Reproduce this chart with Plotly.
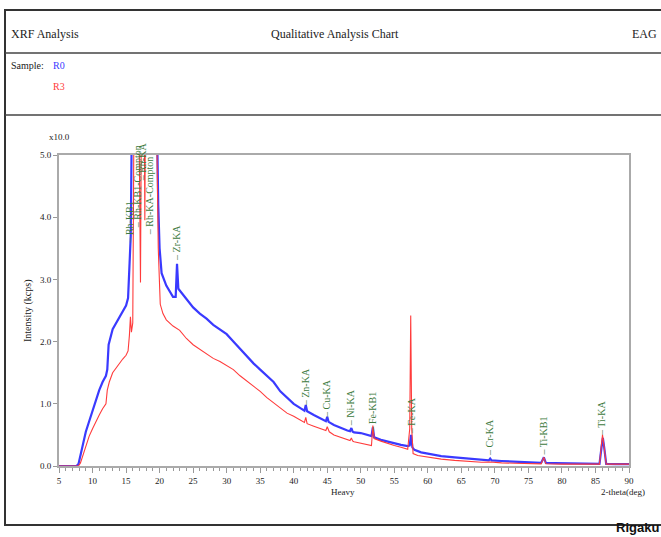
import plotly.graph_objects as go

# ---------------- data ----------------
two_theta_r0 = [5.0, 7.6, 7.9, 8.5, 9.0, 9.5, 10.0, 10.5, 11.0, 11.5, 12.0, 12.2, 12.4, 13.0, 13.5,
                14.0, 14.5, 15.0, 15.3, 15.5, 15.7, 15.9, 16.2, 19.4, 19.6, 19.8, 20.0, 20.3, 21.0,
                21.5, 22.0, 22.4, 22.6, 22.8, 23.5, 24.0, 25.0, 26.0, 27.0, 28.0, 29.0, 30.0, 31.0,
                32.0, 33.0, 34.0, 35.0, 36.0, 37.0, 38.0, 39.0, 40.0, 41.0, 41.6, 41.8, 42.0, 43.0,
                44.0, 44.8, 45.0, 45.2, 46.0, 47.0, 48.0, 48.4, 48.6, 48.8, 49.0, 50.0, 51.0, 51.6,
                51.8, 52.0, 53.0, 54.0, 55.0, 56.0, 57.0, 57.3, 57.5, 57.7, 58.0, 59.0, 60.0, 62.0,
                64.0, 66.0, 68.0, 69.1, 69.3, 69.5, 71.0, 73.0, 75.0, 76.9, 77.3, 77.6, 79.0, 81.0,
                83.0, 85.6, 85.9, 86.1, 86.3, 86.6, 88.0, 90.0]
intensity_r0 = [0.0, 0.0, 0.03, 0.3, 0.55, 0.72, 0.9, 1.08, 1.22, 1.35, 1.45, 1.55, 1.95, 2.2, 2.3,
                2.4, 2.5, 2.58, 2.7, 3.2, 3.7, 6.0, 7.0, 7.0, 5.5, 4.2, 3.5, 3.1, 2.9,
                2.8, 2.72, 2.72, 3.25, 2.85, 2.75, 2.68, 2.55, 2.45, 2.37, 2.27, 2.2, 2.12, 2.0,
                1.88, 1.77, 1.65, 1.55, 1.45, 1.35, 1.2, 1.1, 1.0, 0.93, 0.89, 0.98, 0.88, 0.82,
                0.76, 0.72, 0.79, 0.71, 0.66, 0.61, 0.57, 0.56, 0.61, 0.55, 0.54, 0.53, 0.5, 0.48,
                0.62, 0.46, 0.42, 0.39, 0.36, 0.34, 0.32, 0.33, 0.5, 0.3, 0.26, 0.22, 0.2, 0.16,
                0.14, 0.12, 0.1, 0.09, 0.12, 0.09, 0.08, 0.07, 0.06, 0.05, 0.14, 0.05, 0.045, 0.04,
                0.035, 0.035, 0.3, 0.45, 0.3, 0.035, 0.03, 0.03]

two_theta_r3 = [5.0, 7.9, 8.2, 8.5, 9.0, 9.5, 10.0, 10.5, 11.0, 11.5, 12.0, 12.2, 12.5, 13.0, 13.5,
                14.0, 14.5, 15.0, 15.3, 15.5, 15.65, 15.8, 16.0, 16.2, 16.9, 17.15, 17.3, 17.7,
                17.8, 17.9, 19.5, 19.8, 20.1, 20.5, 21.0, 22.0, 23.0, 24.0, 25.0, 26.0, 27.0, 28.0,
                29.0, 30.0, 31.0, 32.0, 33.0, 34.0, 35.0, 36.0, 37.0, 38.0, 39.0, 40.0, 41.0, 41.6,
                41.8, 42.0, 43.0, 44.0, 44.8, 45.0, 45.3, 46.0, 47.0, 48.0, 48.4, 48.6, 48.8, 49.0,
                50.0, 51.0, 51.6, 51.8, 52.0, 53.0, 54.0, 55.0, 56.0, 57.0, 57.3, 57.45, 57.6, 57.8,
                58.5, 60.0, 62.0, 64.0, 66.0, 68.0, 69.3, 71.0, 73.0, 75.0, 76.9, 77.3, 77.6, 80.0,
                83.0, 85.6, 85.85, 86.05, 86.3, 86.6, 90.0]
intensity_r3 = [0.0, 0.0, 0.05, 0.15, 0.33, 0.48, 0.6, 0.72, 0.82, 0.92, 1.0, 1.22, 1.35, 1.5, 1.58,
                1.65, 1.72, 1.78, 1.85, 2.1, 2.4, 2.15, 2.3, 6.0, 6.0, 2.95, 6.0, 6.0,
                3.95, 6.0, 6.0, 3.5, 2.6, 2.45, 2.35, 2.25, 2.18, 2.05, 1.95, 1.88, 1.8, 1.73,
                1.68, 1.62, 1.55, 1.45, 1.37, 1.28, 1.2, 1.1, 1.02, 0.93, 0.85, 0.8, 0.74, 0.7,
                0.78, 0.68, 0.64, 0.6, 0.57, 0.63, 0.55, 0.5, 0.46, 0.42, 0.41, 0.45, 0.4, 0.39,
                0.37, 0.35, 0.33, 0.65, 0.44, 0.4, 0.36, 0.33, 0.3, 0.27, 0.6, 2.42, 0.6, 0.2,
                0.17, 0.14, 0.11, 0.09, 0.07, 0.06, 0.065, 0.05, 0.045, 0.04, 0.035, 0.14, 0.035, 0.03,
                0.03, 0.03, 0.3, 0.5, 0.3, 0.03, 0.03]

peak_labels = ["Rh-KB1", "Rh-KB1-Compton", "Rh-KA", "Rh-KA-Compton", "Zr-KA", "Zn-KA", "Cu-KA",
               "Ni-KA", "Fe-KB1", "Fe-KA", "Cr-KA", "Ti-KB1", "Ti-KA"]
peak_pos = [15.5, 16.7, 17.5, 18.5, 22.55, 41.7, 44.9, 48.5, 51.7, 57.5, 69.2, 77.2, 85.9]
peak_label_base = [3.55, 3.79, 4.55, 3.68, 3.26, 0.93, 0.74, 0.61, 0.5, 0.47, 0.13, 0.13, 0.45]

x_ticks = list(range(5, 95, 5))
y_ticks = [0.0, 1.0, 2.0, 3.0, 4.0, 5.0]

# ---------------- layout helpers (pixel -> paper) ----------------
W, H = 661, 537
L, R, T, B = 59, 629, 155, 466


def px(x):
    return (x - L) / (R - L)


def py(y):
    return (B - y) / (B - T)


SERIF = "Liberation Serif"
GREEN = "#3d7a3d"
BLUE = "#3a3aff"
RED = "#ff3b3b"

fig = go.Figure()
fig.add_trace(go.Scatter(x=two_theta_r0, y=intensity_r0, mode="lines",
                         line=dict(color=BLUE, width=2.2), name="R0", showlegend=False))
fig.add_trace(go.Scatter(x=two_theta_r3, y=intensity_r3, mode="lines",
                         line=dict(color=RED, width=1.1), name="R3", showlegend=False))

annotations = []
for lab, xp, yb in zip(peak_labels, peak_pos, peak_label_base):
    annotations.append(dict(x=xp, y=yb, xref="x", yref="y", text="– " + lab, textangle=-90,
                            showarrow=False, xanchor="center", yanchor="bottom",
                            font=dict(family=SERIF, size=10, color=GREEN)))


def txt(x, y, s, size=10, color="#222", xanchor="left", yanchor="middle", angle=0, family=SERIF):
    annotations.append(dict(x=px(x), y=py(y), xref="paper", yref="paper", text=s,
                            showarrow=False, xanchor=xanchor, yanchor=yanchor, textangle=angle,
                            font=dict(family=family, size=size, color=color)))


txt(9, 34, "XRF Analysis", size=12)
txt(335, 34, "Qualitative Analysis Chart", size=12, xanchor="center")
txt(659, 34, "EAG", size=12, xanchor="right")
txt(9, 66, "Sample:", size=10)
txt(51, 66, "R0", size=10, color=BLUE)
txt(51, 86, "R3", size=10, color=RED)
txt(59, 137, "x10.0", size=9, xanchor="center")
txt(28, 311, "Intensity (kcps)", size=10, xanchor="center", angle=-90)
txt(343, 492, "Heavy", size=9, xanchor="center")
txt(599, 492, "2-theta(deg)", size=9)
txt(661, 527.5, "<b>Rigaku</b>", size=13, color="#111", xanchor="right", family="Liberation Sans")

shapes = [
    dict(type="rect", xref="paper", yref="paper", x0=px(5), x1=px(680), y0=py(10), y1=py(525),
         line=dict(color="#333", width=2)),
    dict(type="line", xref="paper", yref="paper", x0=px(5), x1=px(680), y0=py(53), y1=py(53),
         line=dict(color="#444", width=1.5)),
    dict(type="line", xref="paper", yref="paper", x0=px(5), x1=px(680), y0=py(115), y1=py(115),
         line=dict(color="#444", width=1.5)),
]

fig.update_layout(
    width=W, height=H, autosize=False,
    margin=dict(l=L, r=W - R, t=T, b=H - B, pad=0),
    paper_bgcolor="white", plot_bgcolor="white",
    annotations=annotations, shapes=shapes,
    font=dict(family=SERIF, size=9, color="#333"),
    xaxis=dict(range=[5, 90], tickvals=x_ticks, ticks="outside", ticklen=5, tickcolor="#999",
               showline=True, linecolor="#aaa", linewidth=2, mirror=True, showgrid=False,
               zeroline=False, tickfont=dict(family=SERIF, size=9, color="#222"),
               minor=dict(dtick=1, ticks="outside", ticklen=3, tickcolor="#999")),
    yaxis=dict(range=[0, 5], tickvals=y_ticks, tickformat=".1f", ticks="outside", ticklen=4,
               tickcolor="#999", showline=True, linecolor="#aaa", linewidth=2, mirror=True,
               showgrid=False, zeroline=False, tickfont=dict(family=SERIF, size=9, color="#222")),
)

fig.write_html("out.html", config={"displayModeBar": False},
               post_script="document.body.style.margin='0';document.body.style.overflow='hidden';")
